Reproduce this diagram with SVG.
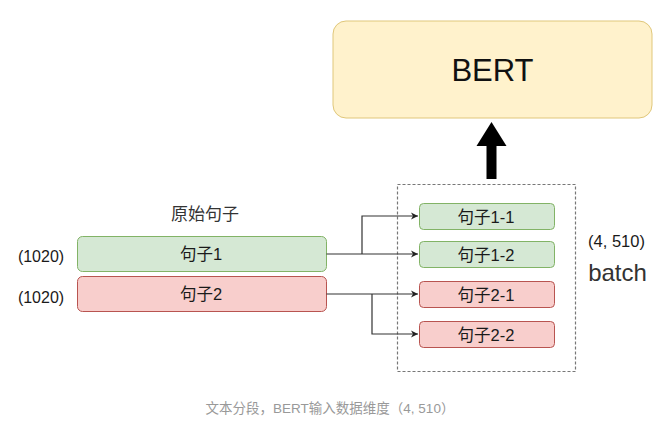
<svg xmlns="http://www.w3.org/2000/svg" width="672" height="430" viewBox="0 0 672 430">
<style>
text{font-family:"Liberation Sans","Noto Sans CJK SC",sans-serif;text-anchor:middle;dominant-baseline:central}
.g{fill:#d5e8d4;stroke:#82b366;stroke-width:1}
.r{fill:#f8cecc;stroke:#b85450;stroke-width:1}
.lbl{font-size:16.5px;fill:#1a1a1a}
.side{font-size:16px;fill:#1a1a1a}
.conn{fill:none;stroke:#333;stroke-width:1.2}
</style>
<defs>
<marker id="ah" markerWidth="8" markerHeight="8" refX="7" refY="4" orient="auto" markerUnits="userSpaceOnUse">
<path d="M0,0.5 L7,4 L0,7.5 L2,4 Z" fill="#222"/>
</marker>
</defs>
<rect width="672" height="430" fill="#fff"/>
<g id="bert">
<rect x="333" y="21" width="319" height="97" rx="13" fill="#fff2cc" stroke="#e0c77a" stroke-width="1"/>
<text x="492.5" y="70" font-size="31" fill="#111">BERT</text>
</g>
<g id="up-arrow">
<path d="M486.5,179 L486.5,146 L476.5,146 L491.5,122 L506.5,146 L496.5,146 L496.5,179 Z" fill="#000"/>
</g>
<g id="batch">
<rect x="397.5" y="184.5" width="178" height="187" fill="none" stroke="#777" stroke-width="1.2" stroke-dasharray="3,2"/>
<text x="616.5" y="241" font-size="16.5" fill="#1a1a1a">(4, 510)</text>
<text x="617.5" y="272" font-size="24" fill="#333">batch</text>
</g>
<g id="title">
<text x="205" y="214" font-size="17" fill="#333">原始句子</text>
</g>
<g id="s1">
<rect class="g" x="77.5" y="236.5" width="249" height="35" rx="5"/>
<text class="lbl" x="201" y="254">句子1</text>
<text class="side" x="41" y="256">(1020)</text>
</g>
<g id="s2">
<rect class="r" x="77.5" y="276.5" width="249" height="35" rx="5"/>
<text class="lbl" x="201" y="294">句子2</text>
<text class="side" x="41" y="297">(1020)</text>
</g>
<g id="s11">
<rect class="g" x="419.5" y="203.5" width="135" height="26" rx="4"/>
<text class="lbl" x="486" y="216.5">句子1-1</text>
</g>
<g id="s12">
<rect class="g" x="419.5" y="241.5" width="135" height="26" rx="4"/>
<text class="lbl" x="486" y="254.5">句子1-2</text>
</g>
<g id="s21">
<rect class="r" x="419.5" y="281.5" width="135" height="26" rx="4"/>
<text class="lbl" x="486" y="294.5">句子2-1</text>
</g>
<g id="s22">
<rect class="r" x="419.5" y="321.5" width="135" height="26" rx="4"/>
<text class="lbl" x="486" y="334.5">句子2-2</text>
</g>
<g id="connectors">
<path class="conn" d="M326.5,254 L418,254" marker-end="url(#ah)"/>
<path class="conn" d="M362,254 L362,216 L418,216" marker-end="url(#ah)"/>
<path class="conn" d="M326.5,294 L418,294" marker-end="url(#ah)"/>
<path class="conn" d="M372,294 L372,334 L418,334" marker-end="url(#ah)"/>
</g>
<text x="330" y="408" font-size="13.5" fill="#999">文本分段，BERT输入数据维度（4, 510）</text>
</svg>
